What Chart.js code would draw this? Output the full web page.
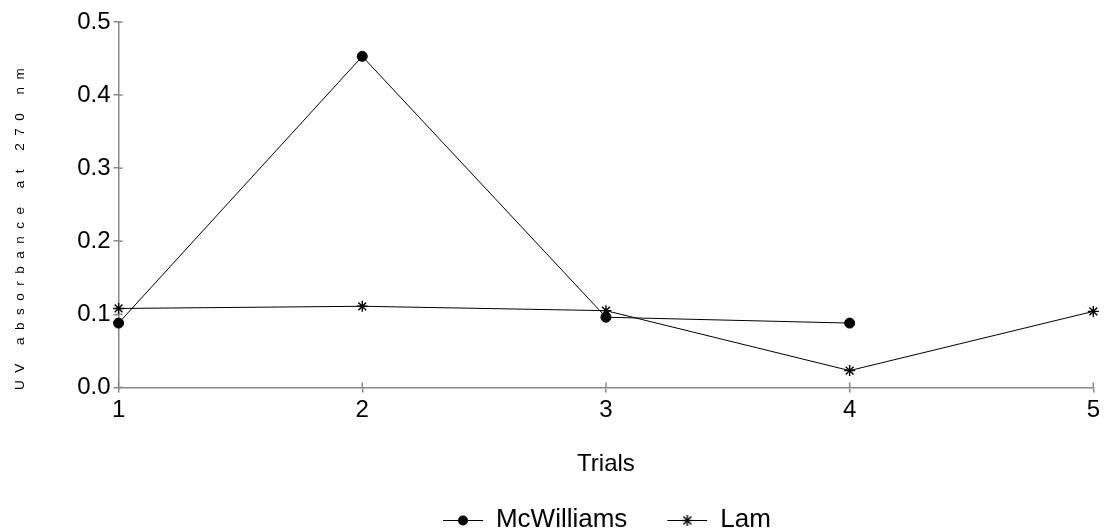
<!DOCTYPE html>
<html>
<head>
<meta charset="utf-8">
<script src="https://cdn.jsdelivr.net/npm/chart.js@4/dist/chart.umd.min.js"></script>
<style>
  html, body { margin: 0; padding: 0; background: #fff; }
  #wrap { width: 1104px; height: 531px; }
</style>
</head>
<body>
<div id="wrap"><canvas id="chart" width="1104" height="531"></canvas></div>
<script>
const trials = ["1", "2", "3", "4", "5"];
const mcWilliams = [0.088, 0.453, 0.096, 0.088, null];
const lam = [0.108, 0.111, 0.105, 0.023, 0.104];
const yTicks = [0, 0.1, 0.2, 0.3, 0.4, 0.5];

// legend icon: short line with the marker in the middle (blank strip on the left = gap between items)
const ICON_GAP = 38;
function legendIcon(style) {
  const c = document.createElement("canvas");
  c.width = 40 + ICON_GAP; c.height = 16;
  const g = c.getContext("2d");
  const cx = ICON_GAP + 20;
  g.strokeStyle = "#000"; g.fillStyle = "#000"; g.lineWidth = 1;
  g.beginPath(); g.moveTo(ICON_GAP, 8.5); g.lineTo(ICON_GAP + 40, 8.5); g.stroke();
  if (style === "circle") {
    g.beginPath(); g.arc(cx, 8.5, 5, 0, Math.PI * 2); g.fill();
  } else {
    g.lineWidth = 1.4;
    for (let i = 0; i < 4; i++) {
      const a = i * Math.PI / 4;
      g.beginPath();
      g.moveTo(cx - 5.5 * Math.cos(a), 8.5 - 5.5 * Math.sin(a));
      g.lineTo(cx + 5.5 * Math.cos(a), 8.5 + 5.5 * Math.sin(a));
      g.stroke();
    }
  }
  return c;
}

// tick marks cross the axis line, so draw the inner half too
const innerTicks = {
  id: "innerTicks",
  beforeDraw(chart) {
    // center the legend under the plot area and push it down to the bottom edge
    const lg = chart.legend, ca = chart.chartArea;
    lg.left = ca.left - 18;
    lg.right = ca.right - 18;
    lg.top += 12;
    lg.bottom += 12;
  },
  afterDraw(chart) {
    const { ctx, chartArea, scales } = chart;
    ctx.save();
    ctx.strokeStyle = "#888";
    ctx.lineWidth = 1.5;
    scales.x.ticks.forEach((t, i) => {
      const px = scales.x.getPixelForTick(i);
      ctx.beginPath(); ctx.moveTo(px, chartArea.bottom); ctx.lineTo(px, chartArea.bottom - 5); ctx.stroke();
    });
    scales.y.ticks.forEach((t) => {
      const py = scales.y.getPixelForValue(t.value);
      ctx.beginPath(); ctx.moveTo(chartArea.left, py); ctx.lineTo(chartArea.left + 4, py); ctx.stroke();
    });
    ctx.restore();
  },
};

const font = "'Liberation Sans', Arial, sans-serif";
Chart.defaults.font.family = font;
Chart.defaults.color = "#000";

// spaced-out title as in the original; trailing spaces nudge it down a little
const yTitle = "U  V     a  b  s  o  r  b  a  n  c  e     a  t     2  7  0     n  m" + " ".repeat(13);

new Chart(document.getElementById("chart").getContext("2d"), {
  type: "line",
  data: {
    labels: trials,
    datasets: [
      {
        label: "McWilliams",
        data: mcWilliams,
        borderColor: "#000",
        backgroundColor: "#000",
        borderWidth: 1,
        pointStyle: "circle",
        pointRadius: 5,
        tension: 0,
        spanGaps: false,
      },
      {
        label: "Lam",
        data: lam,
        borderColor: "#000",
        backgroundColor: "#000",
        borderWidth: 1,
        pointStyle: "star",
        pointRadius: 5.5,
        pointBorderWidth: 1.4,
        tension: 0,
      },
    ],
  },
  plugins: [innerTicks],
  options: {
    responsive: false,
    animation: false,
    layout: { padding: { left: 0, right: 8, top: 22, bottom: 0 } },
    plugins: {
      legend: {
        position: "bottom",
        labels: {
          font: { size: 26 },
          usePointStyle: true,
          pointStyleWidth: 40 + ICON_GAP,
          padding: 2,
          generateLabels(chart) {
            return chart.data.datasets.map((ds, i) => ({
              text: ds.label,
              pointStyle: legendIcon(i === 0 ? "circle" : "star"),
              fillStyle: "#000",
              strokeStyle: "#000",
              lineWidth: 0,
              datasetIndex: i,
              fontColor: "#000",
            }));
          },
        },
      },
      tooltip: { enabled: false },
    },
    scales: {
      x: {
        type: "category",
        offset: false,
        grid: { drawOnChartArea: false, drawTicks: true, tickLength: 5, color: "#888", lineWidth: 1.5 },
        border: { color: "#888", width: 1.5 },
        ticks: { font: { size: 24 }, padding: 4, maxRotation: 0 },
        title: { display: true, text: "Trials", font: { size: 24 }, padding: { top: 21, bottom: 14 } },
      },
      y: {
        min: 0,
        max: 0.5,
        afterBuildTicks(axis) { axis.ticks = yTicks.map(v => ({ value: v })); },
        grid: { drawOnChartArea: false, drawTicks: true, tickLength: 5, color: "#888", lineWidth: 1.5 },
        border: { color: "#888", width: 1.5 },
        ticks: { font: { size: 24 }, padding: 3, callback: v => v.toFixed(1) },
        title: {
          display: true,
          text: yTitle,
          font: { size: 13.5 },
          padding: { top: 12, bottom: 46 },
        },
      },
    },
  },
});
</script>
</body>
</html>
